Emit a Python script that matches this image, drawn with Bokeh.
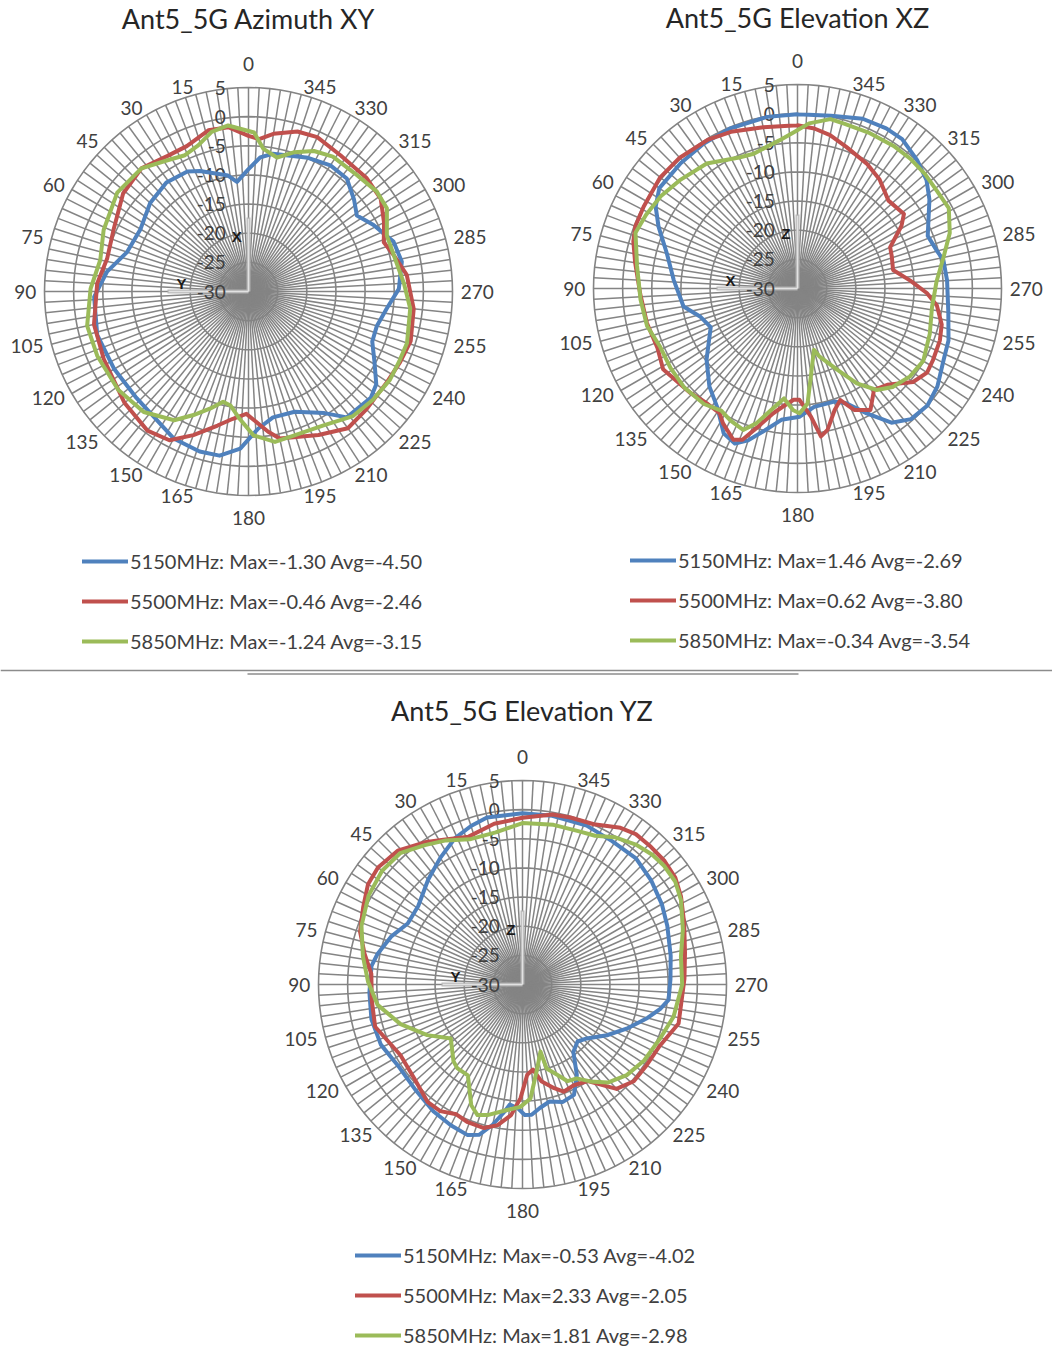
import numpy as np
from bokeh.plotting import figure
from bokeh.models import Range1d, Legend, LegendItem, Span
from bokeh.layouts import column, row
from bokeh.core.properties import value
from bokeh.embed import file_html
from bokeh.resources import INLINE

# ------------------------------------------------------------------ data
angle_ticks = [0, 15, 30, 45, 60, 75, 90, 105, 120, 135, 150, 165,
               180, 195, 210, 225, 240, 255, 270, 285, 300, 315, 330, 345]
angle_labels = ["0", "15", "30", "45", "60", "75", "90", "105", "120", "135", "150", "165",
                "180", "195", "210", "225", "240", "255", "270", "285", "300", "315", "330", "345"]
radial_ticks = [5, 0, -5, -10, -15, -20, -25, -30]
radial_labels = ["5", "0", "-5", "-10", "-15", "-20", "-25", "-30"]

series_names = ["5150MHz", "5500MHz", "5850MHz"]
series_colors = ["#4F81BD", "#C0504D", "#9BBB59"]

# --- Azimuth XY
xy_title = "Ant5_5G Azimuth XY"
xy_axes = ["X", "Y"]
xy_legend = ["5150MHz: Max=-1.30 Avg=-4.50", "5500MHz: Max=-0.46 Avg=-2.46", "5850MHz: Max=-1.24 Avg=-3.15"]
xy_5150_deg = [0, 6, 10, 22, 27, 37, 48, 60, 72, 82, 92, 106, 120, 133, 153, 163, 170, 177, 184, 191,
               201, 212, 218, 229, 234, 241, 248, 255, 263, 271, 281, 289, 298, 305, 311, 319, 327, 336, 350, 355]
xy_5150_db = [-9.0, -11.1, -9.8, -7.7, -6.9, -6.6, -7.3, -8.6, -8.1, -5.5, -3.5, -3.0, -3.4, -3.5, -1.7, -1.3, -1.4, -3.0, -6.4, -8.0,
              -7.9, -5.4, -2.6, -2.2, -2.9, -5.3, -7.1, -7.2, -6.1, -4.2, -3.2, -3.7, -5.7, -7.3, -6.0, -4.3, -4.2, -4.9, -6.0, -6.9]
xy_5500_deg = [0, 7, 14, 23, 31, 41, 52, 65, 77, 87, 102, 115, 132, 144, 152, 159, 167, 173, 179, 188,
               192, 206, 216, 225, 237, 245, 253, 264, 276, 284, 290, 297, 305, 314, 326, 336, 343, 351, 356]
xy_5500_db = [-3.3, -1.6, -1.5, -2.9, -2.9, -2.0, -2.7, -4.5, -5.1, -4.0, -2.9, -2.6, -1.4, -0.5, -1.1, -3.6, -6.4, -8.0, -9.0, -5.7,
              -4.2, -2.6, -1.0, -1.4, -1.6, -1.3, -0.9, -1.5, -2.7, -4.3, -5.3, -3.9, -2.3, -1.9, -1.8, -1.0, -1.3, -2.6, -3.8]
xy_5850_deg = [7, 13, 19, 25, 32, 41, 53, 67, 78, 89, 102, 113, 127, 139, 150, 156, 162, 167, 171, 176,
               182, 190, 198, 209, 220, 229, 238, 245, 252, 264, 273, 284, 292, 301, 308, 317, 328, 335, 342, 348, 354, 358]
xy_5850_db = [-1.3, -1.9, -3.5, -4.2, -3.5, -2.0, -1.8, -3.0, -4.0, -2.9, -1.7, -1.8, -2.0, -2.6, -4.5, -6.8, -8.9, -10.6, -10.2, -8.1,
              -5.3, -3.8, -4.1, -3.7, -2.1, -1.7, -1.4, -1.5, -1.4, -2.1, -3.3, -4.3, -4.4, -2.3, -2.1, -2.7, -2.7, -3.4, -4.9, -6.5, -5.4, -2.7]

# --- Elevation XZ
xz_title = "Ant5_5G Elevation XZ"
xz_axes = ["Z", "X"]
xz_legend = ["5150MHz: Max=1.46 Avg=-2.69", "5500MHz: Max=0.62 Avg=-3.80", "5850MHz: Max=-0.34 Avg=-3.54"]
xz_5150_deg = [0, 10, 23, 33, 43, 54, 60, 66, 75, 86, 99, 106, 114, 128, 138, 146, 153, 158, 162, 167,
               173, 181, 188, 198, 203, 209, 215, 221, 228, 235, 244, 251, 261, 273, 281, 285, 292, 304, 310, 317, 325, 331, 339, 349]
xz_5150_db = [-0.1, -0.1, -0.2, -0.4, -0.6, -0.7, -1.9, -3.9, -6.8, -8.7, -10.2, -12.6, -13.7, -10.2, -7.4, -5.4, -2.1, -1.3, -2.6, -5.0,
              -7.3, -8.0, -9.5, -9.6, -8.6, -5.5, -1.9, -0.3, 0.0, -0.7, -2.1, -2.6, -3.8, -4.3, -4.5, -5.2, -5.9, -2.7, -1.1, 0.1, 1.3, 1.4, 1.2, 0.2]
xz_5500_deg = [0, 12, 23, 31, 42, 51, 62, 69, 74, 81, 92, 103, 113, 121, 134, 142, 148, 151, 157, 160,
               164, 169, 173, 178, 181, 186, 189, 192, 197, 201, 205, 211, 217, 223, 231, 237, 242, 250, 256, 263,
               268, 274, 281, 289, 294, 301, 305, 314, 323, 331, 341, 348, 354]
xz_5500_db = [-2.0, -1.7, -0.8, -0.2, 0.2, 0.3, -0.1, -0.2, -0.7, -1.8, -3.0, -3.5, -3.9, -3.1, -4.3, -4.9, -4.8, -3.6, -1.8, -2.4,
              -5.3, -8.2, -9.6, -10.9, -10.9, -7.9, -4.3, -5.2, -8.2, -9.5, -7.0, -5.7, -8.2, -7.4, -4.5, -3.5, -3.7, -4.0, -4.5, -5.9,
              -7.8, -10.6, -13.3, -12.9, -12.6, -9.2, -7.7, -8.3, -6.6, -5.5, -4.3, -3.1, -2.4]
xz_5850_deg = [1, 7, 12, 18, 24, 36, 47, 56, 64, 71, 82, 94, 104, 113, 122, 131, 141, 148, 153, 159,
               163, 169, 173, 178, 181, 185, 188, 195, 198, 206, 212, 218, 224, 232, 240, 251, 262, 273, 282, 290,
               298, 305, 312, 319, 326, 335, 344, 349, 356]
xz_5850_db = [-3.1, -4.4, -5.1, -5.7, -5.4, -3.5, -2.6, -1.7, -1.1, -0.6, -2.2, -3.0, -3.4, -4.4, -4.3, -4.2, -4.5, -5.3, -4.6, -4.0,
              -5.8, -9.3, -11.0, -9.1, -8.6, -10.2, -14.1, -19.1, -17.7, -14.5, -10.8, -7.9, -6.5, -5.5, -5.1, -6.0, -6.7, -6.1, -4.4, -2.2,
              -0.6, -0.8, -0.6, -0.5, -0.5, -0.6, -0.6, -0.4, -1.6]

# --- Elevation YZ
yz_title = "Ant5_5G Elevation YZ"
yz_axes = ["Z", "Y"]
yz_legend = ["5150MHz: Max=-0.53 Avg=-4.02", "5500MHz: Max=2.33 Avg=-2.05", "5850MHz: Max=1.81 Avg=-2.98"]
yz_5150_deg = [0, 12, 18, 25, 33, 42, 53, 62, 70, 78, 83, 93, 103, 113, 123, 135, 145, 153, 160, 164,
               168, 172, 174, 178, 181, 184, 188, 193, 199, 205, 211, 217, 224, 230, 239, 247, 255, 260, 264, 272,
               281, 292, 300, 309, 318, 328, 338, 350]
yz_5150_db = [-0.6, -0.7, -1.4, -2.4, -4.1, -5.8, -7.6, -7.7, -6.0, -4.6, -3.9, -3.7, -3.4, -3.6, -4.5, -4.2, -3.4, -2.9, -2.5, -3.2,
              -5.4, -8.0, -9.3, -8.7, -7.6, -7.6, -8.6, -9.4, -8.7, -9.1, -11.9, -15.5, -16.4, -15.6, -13.1, -10.6, -7.8, -6.0, -4.8, -4.6,
              -4.1, -3.2, -2.4, -1.6, -0.9, -1.0, -0.6, -0.6]
yz_5500_deg = [0, 10, 20, 28, 34, 43, 51, 57, 64, 72, 79, 86, 96, 106, 120, 131, 141, 147, 153, 158,
               165, 170, 175, 179, 183, 187, 189, 191, 197, 201, 207, 214, 218, 222, 229, 237, 246, 256, 272, 281,
               291, 299, 305, 311, 317, 323, 328, 336, 344, 350]
yz_5500_db = [-1.4, -2.0, -3.0, -1.8, -0.5, 1.4, 1.9, 1.6, 0.4, -0.7, -2.4, -4.0, -4.0, -3.7, -5.8, -5.4, -4.1, -4.1, -5.0, -4.6,
              -4.5, -5.5, -7.5, -10.5, -14.5, -15.3, -14.3, -13.1, -11.4, -10.3, -10.6, -10.0, -8.2, -5.9, -4.7, -4.6, -4.2, -2.4, -2.2, -1.6,
              -0.3, 1.1, 2.0, 2.3, 2.3, 2.3, 1.7, 0.1, -0.2, -0.4]
yz_5850_deg = [0, 10, 20, 28, 35, 43, 51, 60, 70, 80, 89, 98, 108, 118, 127, 138, 142, 149, 157, 161,
               165, 173, 179, 184, 190, 195, 196, 201, 205, 210, 215, 221, 229, 238, 249, 258, 270, 280, 289, 298,
               304, 310, 315, 321, 328, 334, 340, 349]
yz_5850_db = [-2.3, -3.5, -3.5, -2.0, -0.8, 0.8, 1.0, 0.5, -0.6, -2.2, -3.5, -4.9, -8.0, -11.5, -14.6, -12.3, -11.8, -11.8, -7.5, -6.3,
              -6.8, -8.3, -9.0, -10.4, -15.4, -18.1, -15.0, -13.4, -11.7, -11.4, -9.7, -7.7, -6.3, -5.4, -4.6, -3.5, -2.6, -2.4, -0.9, 0.8,
              1.6, 1.7, 1.5, 0.9, -0.2, -1.6, -2.0, -2.1]

# ------------------------------------------------------------------ style
R_MIN, R_MAX = -30, 5
SCALE = 204.0 / (R_MAX - R_MIN)          # px per dB
N_SPOKES = 120
GRID = "#848484"
TEXT = "#404040"
FONT = "Lato"


def polar(deg, db):
    r = np.clip(np.asarray(db, float) - R_MIN, 0, None)
    a = np.deg2rad(np.asarray(deg, float))
    x, y = -r * np.sin(a), r * np.cos(a)
    return list(x) + [x[0]], list(y) + [y[0]]


def radar(w, h, px0, py0, cx, cy, title, title_y, axes_letters, series, legend_texts, legend_xy):
    s = SCALE
    p = figure(width=w, height=h,
               x_range=Range1d((px0 - cx) / s, (px0 + w - cx) / s),
               y_range=Range1d((cy - py0 - h) / s, (cy - py0) / s),
               output_backend="svg", toolbar_location=None,
               x_axis_type=None, y_axis_type=None, min_border=0,
               outline_line_color=None)
    p.grid.visible = False
    p.background_fill_color = "white"
    p.border_fill_color = "white"

    R = R_MAX - R_MIN
    sp = np.deg2rad(np.arange(N_SPOKES) * 360.0 / N_SPOKES)
    p.multi_line([[0, -R * np.sin(a)] for a in sp], [[0, R * np.cos(a)] for a in sp],
                 line_color=GRID, line_width=1.5)
    ring_a = np.concatenate([sp, sp[:1]])
    rings = [t - R_MIN for t in radial_ticks if t > R_MIN]
    p.multi_line([list(-r * np.sin(ring_a)) for r in rings], [list(r * np.cos(ring_a)) for r in rings],
                 line_color=GRID, line_width=1.6)

    # axis indicator (L shape) + letters
    p.line([0, 0], [0, 12.7], line_color="#B4B4B4", line_width=4, line_alpha=0.9)
    p.line([0, -13.9], [0, 0], line_color="#B4B4B4", line_width=4, line_alpha=0.9)
    p.line([0, 0], [0, 12.5], line_color="#E2E2E2", line_width=1.5)
    p.line([0, -13.7], [0, 0], line_color="#E2E2E2", line_width=1.5)
    p.text(x=[-2.0, -11.5], y=[9.4, 1.4], text=axes_letters, text_align="center", text_baseline="middle",
           text_font=value("Liberation Sans"), text_font_style="bold", text_font_size="15px", text_color="#1A1A1A")

    # category labels: placed beside the outer ring (left side right-aligned, right side left-aligned)
    R1 = 36.4
    for side, align in (("left", "right"), ("right", "left"), ("mid", "center")):
        idx = [i for i, a in enumerate(angle_ticks)
               if (side == "left" and 0 < a < 180) or (side == "right" and a > 180)
               or (side == "mid" and a in (0, 180))]
        la = np.deg2rad([angle_ticks[i] for i in idx])
        if side == "mid":
            xs = [0.0 for _ in idx]
            ys = [39.1 if angle_ticks[i] == 0 else -38.8 for i in idx]
        else:
            xs = list(-R1 * np.sin(la))
            ys = list(R1 * np.cos(la))
        p.text(x=xs, y=ys, text=[angle_labels[i] for i in idx],
               text_align=align, text_baseline="middle", text_font=value(FONT),
               text_font_size="19px", text_color=TEXT)
    p.text(x=[-3.9] * len(radial_ticks), y=[t - R_MIN for t in radial_ticks], text=radial_labels,
           text_align="right", text_baseline="middle", text_font=value(FONT),
           text_font_size="19px", text_color=TEXT)
    p.text(x=[0], y=[title_y], text=[title], text_align="center", text_baseline="middle",
           text_font=value(FONT), text_font_size="27px", text_color="#262626")

    items = []
    for (deg, db), col, lab in zip(series, series_colors, legend_texts):
        xs, ys = polar(deg, db)
        r = p.line(xs, ys, line_color=col, line_width=4, line_join="round", line_cap="round")
        items.append(LegendItem(label=lab, renderers=[r]))
    leg = Legend(items=items, location=legend_xy, orientation="vertical",
                 glyph_width=46, glyph_height=22, label_height=22, label_standoff=2,
                 spacing=16, padding=0, margin=0, border_line_alpha=0,
                 background_fill_alpha=0, label_text_font=FONT,
                 label_text_font_size="20px", label_text_color=TEXT)
    p.add_layout(leg, "center")
    return p


p1 = radar(526, 664, 0, 0, 248, 291, xy_title, (291 - 18) / SCALE, xy_axes,
           [(xy_5150_deg, xy_5150_db), (xy_5500_deg, xy_5500_db), (xy_5850_deg, xy_5850_db)],
           xy_legend, (82, 11))
p2 = radar(526, 664, 526, 0, 797, 288, xz_title, (288 - 16.8) / SCALE, xz_axes,
           [(xz_5150_deg, xz_5150_db), (xz_5500_deg, xz_5500_db), (xz_5850_deg, xz_5850_db)],
           xz_legend, (104, 12))
p3 = radar(1052, 688, 0, 664, 522, 984, yz_title, (984 - 710) / SCALE, yz_axes,
           [(yz_5150_deg, yz_5150_db), (yz_5500_deg, yz_5500_db), (yz_5850_deg, yz_5850_db)],
           yz_legend, (355, 5))

# separators
p3.add_layout(Span(location=(984 - 670) / SCALE, dimension="width", line_color="#8C8C8C", line_width=1.5))
p3.line([(247 - 522) / SCALE, (798 - 522) / SCALE], [(984 - 673.5) / SCALE] * 2,
        line_color="#8C8C8C", line_width=1.5)

layout = column(row(p1, p2, spacing=0), p3, spacing=0)
open("out.html", "w").write(file_html(layout, INLINE))
